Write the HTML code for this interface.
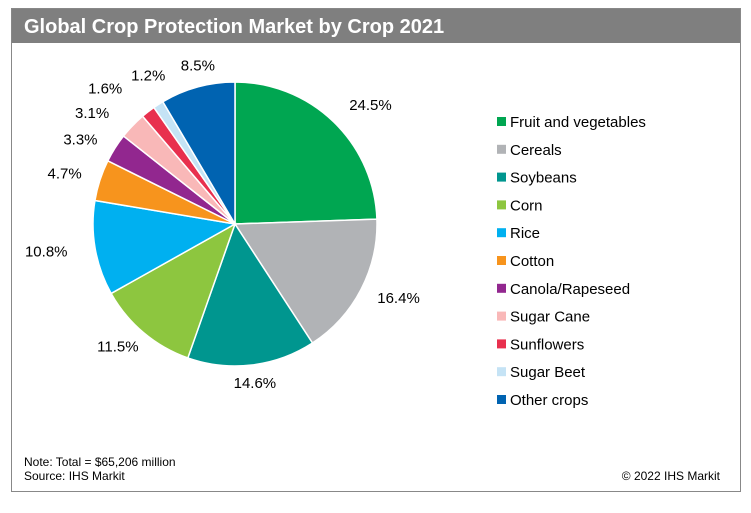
<!DOCTYPE html>
<html><head><meta charset="utf-8"><style>
body{margin:0;background:#fff;font-family:"Liberation Sans",Arial,sans-serif;}
#wrap{position:relative;width:751px;height:508px;}
</style></head><body>
<div id="wrap">
<svg id="svg" width="751" height="508" xmlns="http://www.w3.org/2000/svg">
<rect x="11.5" y="8.5" width="729" height="483" fill="#fff" stroke="#888"/>
<rect x="12" y="9" width="728" height="34" fill="#7f7f7f"/>
<text x="24" y="33" font-size="20" font-weight="bold" fill="#fff">Global Crop Protection Market by Crop 2021</text>
<g id="slices"></g><g id="labels"></g><g id="legend"></g>
<text x="24" y="466" font-size="12" fill="#000">Note: Total = $65,206 million</text>
<text x="24" y="480" font-size="12" fill="#000">Source: IHS Markit</text>
<text x="720" y="480" font-size="12" fill="#000" text-anchor="end">© 2022 IHS Markit</text>
</svg>
</div>
<script>
const categories=["Fruit and vegetables","Cereals","Soybeans","Corn","Rice","Cotton","Canola/Rapeseed","Sugar Cane","Sunflowers","Sugar Beet","Other crops"];
const values=[24.5,16.4,14.6,11.5,10.8,4.7,3.3,3.1,1.6,1.2,8.5];
const colors=["#00a651","#b1b3b6","#00968f","#8dc63f","#00b0f0","#f7941d","#92278f","#f9b8b8","#e8304e","#c5e3f5","#0063b1"];
const NS="http://www.w3.org/2000/svg";
const cx=235,cy=224,r=142;
const nudgeX=[8,-4,0,0,0,11,4,-10,-19,10,8];
const nudgeY=[-4,0,0,0,0,-1,1,0,-9,-14,-4];
const total=values.reduce((a,b)=>a+b,0);
const sg=document.getElementById('slices'),lg=document.getElementById('labels'),leg=document.getElementById('legend');
function pt(a,rr){return [cx+rr*Math.sin(a),cy-rr*Math.cos(a)];}
let start=0;
values.forEach((v,i)=>{
  const ang=v/total*2*Math.PI,end=start+ang;
  const [x1,y1]=pt(start,r),[x2,y2]=pt(end,r);
  const p=document.createElementNS(NS,'path');
  p.setAttribute('d',`M${cx},${cy}L${x1},${y1}A${r},${r} 0 ${ang>Math.PI?1:0} 1 ${x2},${y2}Z`);
  p.setAttribute('fill',colors[i]);p.setAttribute('stroke','#fff');p.setAttribute('stroke-width','1.5');
  
  
  sg.appendChild(p);
  const mid=(start+end)/2;
  const s1=Math.sin(mid),c1=Math.cos(mid);
  const lx=cx+(r+22+28*Math.abs(s1))*s1+nudgeX[i];
  const ly=cy-(r+18)*c1+nudgeY[i];
  const t=document.createElementNS(NS,'text');
  t.setAttribute('x',lx);t.setAttribute('y',ly+5);t.setAttribute('text-anchor','middle');
  t.setAttribute('font-size','15');t.textContent=v.toFixed(1)+'%';
  
  
  lg.appendChild(t);
  const ry=122+i*27.8;
  const s=document.createElementNS(NS,'rect');
  s.setAttribute('x',497);s.setAttribute('y',ry-5);s.setAttribute('width',9);s.setAttribute('height',9);s.setAttribute('fill',colors[i]);
  
  
  leg.appendChild(s);
  const lt=document.createElementNS(NS,'text');
  lt.setAttribute('x',510);lt.setAttribute('y',ry+5);lt.setAttribute('font-size','15');lt.textContent=categories[i];
  
  
  leg.appendChild(lt);
  start=end;
});
</script>
</body></html>
